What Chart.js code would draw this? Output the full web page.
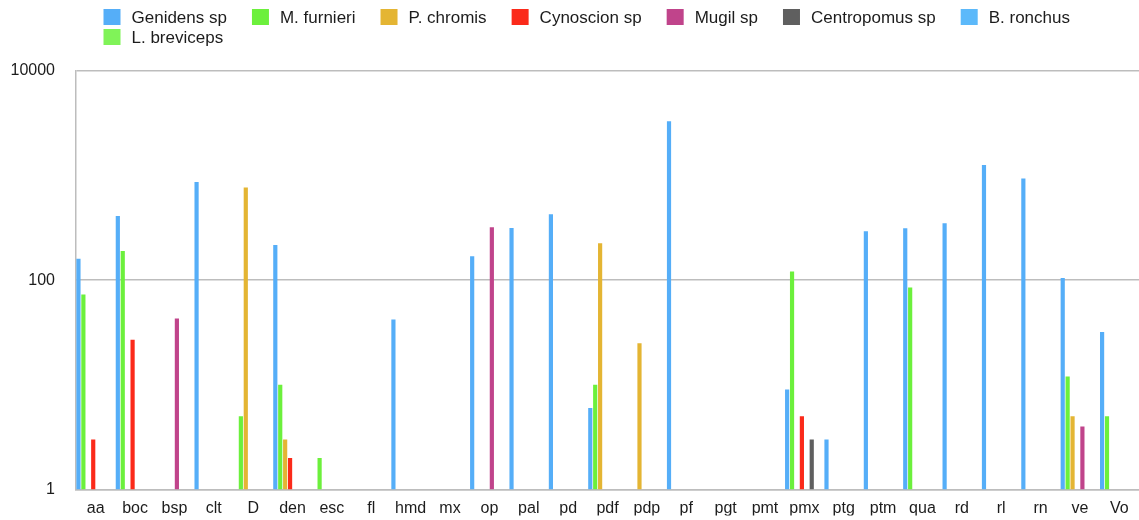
<!DOCTYPE html>
<html>
<head>
<meta charset="utf-8">
<script src="https://cdn.jsdelivr.net/npm/chart.js@4/dist/chart.umd.min.js"></script>
<style>
  html, body { margin: 0; padding: 0; background: #ffffff; }
  #wrap { width: 1139px; height: 520px; position: relative; }
</style>
</head>
<body>
<div id="wrap"><canvas id="chart"></canvas></div>
<script>
// Sampling sites along the x axis
const categories = ['aa', 'boc', 'bsp', 'clt', 'D', 'den', 'esc', 'fl', 'hmd', 'mx', 'op', 'pal', 'pd', 'pdf', 'pdp', 'pf', 'pgt', 'pmt', 'pmx', 'ptg', 'ptm', 'qua', 'rd', 'rl', 'rn', 've', 'Vo'];

// Counts per species (null = not recorded)
const genidens    = [160, 410, null, 870, null, 217, null, null, 42, null, 169, 315, 427, 6, null, 3300, null, null, 9, 3, 293, 313, 351, 1260, 940, 105, 32];
const mFurnieri   = [73, 190, null, null, 5, 10, 2, null, null, null, null, null, null, 10, null, null, null, null, 121, null, null, 85, null, null, null, 12, 5];
const pChromis    = [null, null, null, null, 770, 3, null, null, null, null, null, null, null, 226, 25, null, null, null, null, null, null, null, null, null, null, 5, null];
const cynoscion   = [3, 27, null, null, null, 2, null, null, null, null, null, null, null, null, null, null, null, null, 5, null, null, null, null, null, null, null, null];
const mugil       = [null, null, 43, null, null, null, null, null, null, null, 320, null, null, null, null, null, null, null, null, null, null, null, null, null, null, 4, null];
const centropomus = [null, null, null, null, null, null, null, null, null, null, null, null, null, null, null, null, null, null, 3, null, null, null, null, null, null, null, null];
const bRonchus    = [null, null, null, null, null, null, null, null, null, null, null, null, null, null, null, null, null, null, null, null, null, null, null, null, null, null, null];
const lBreviceps  = [null, null, null, null, null, null, null, null, null, null, null, null, null, null, null, null, null, null, null, null, null, null, null, null, null, null, null];

// Log axis ticks
const yTicks = [1, 100, 10000];

const FONT_FAMILY = "'Liberation Sans', Arial, Helvetica, sans-serif";
const GRID_COLOR = '#bdbdbd';
const TEXT_COLOR = '#1c1c1c';

const series = [
  { label: 'Genidens sp',    data: genidens,    color: '#55aef8' },
  { label: 'M. furnieri',    data: mFurnieri,   color: '#6cf03c' },
  { label: 'P. chromis',     data: pChromis,    color: '#e4b533' },
  { label: 'Cynoscion sp',   data: cynoscion,   color: '#fb2a1a' },
  { label: 'Mugil sp',       data: mugil,       color: '#c0448b' },
  { label: 'Centropomus sp', data: centropomus, color: '#5f5f5f' },
  { label: 'B. ronchus',     data: bRonchus,    color: '#5cb9fa' },
  { label: 'L. breviceps',   data: lBreviceps,  color: '#80f358' }
];

// Left-aligned, wrapping legend drawn above the plot
const rowLegend = {
  id: 'rowLegend',
  afterDraw(chart, args, opts) {
    const ctx = chart.ctx;
    ctx.save();
    ctx.font = opts.font;
    ctx.textBaseline = 'middle';
    ctx.textAlign = 'left';
    let x = opts.left;
    let y = opts.top;
    chart.data.datasets.forEach(ds => {
      const textW = ctx.measureText(ds.label).width;
      const w = opts.boxWidth + opts.textGap + textW;
      if (x > opts.left && x + w > chart.width - opts.rightLimit) {
        x = opts.left;
        y += opts.rowHeight;
      }
      ctx.fillStyle = ds.backgroundColor;
      ctx.fillRect(x, y, opts.boxWidth, opts.boxHeight);
      ctx.fillStyle = opts.color;
      ctx.fillText(ds.label, x + opts.boxWidth + opts.textGap, y + opts.boxHeight / 2 + 1);
      x += w + opts.itemGap;
    });
    ctx.restore();
  }
};

new Chart(document.getElementById('chart'), {
  type: 'bar',
  data: {
    labels: categories,
    datasets: series.map(s => ({
      label: s.label,
      data: s.data,
      backgroundColor: s.color,
      borderWidth: 0,
      categoryPercentage: 1.0,
      barPercentage: 0.85
    }))
  },
  options: {
    responsive: true,
    maintainAspectRatio: false,
    devicePixelRatio: 1,
    animation: false,
    layout: { padding: { top: 71, left: 10, right: -4, bottom: 0 } },
    plugins: {
      legend: { display: false },
      tooltip: { enabled: false },
      rowLegend: {
        left: 103.5,
        top: 9,
        boxWidth: 17,
        boxHeight: 16,
        textGap: 11,
        itemGap: 25,
        rowHeight: 20,
        rightLimit: 10,
        font: "17px " + FONT_FAMILY,
        color: TEXT_COLOR
      }
    },
    scales: {
      x: {
        offset: true,
        grid: { display: true, color: 'rgba(0,0,0,0)', drawTicks: false },
        border: { display: true, color: GRID_COLOR, width: 1.5 },
        ticks: {
          color: TEXT_COLOR,
          padding: 10,
          maxRotation: 0,
          autoSkip: false,
          font: { family: FONT_FAMILY, size: 16 }
        },
        afterFit: scale => { scale.height = 26; }
      },
      y: {
        type: 'logarithmic',
        min: 1,
        max: 10000,
        afterBuildTicks: scale => { scale.ticks = yTicks.map(v => ({ value: v })); },
        grid: { color: GRID_COLOR, lineWidth: 1.5, drawTicks: false },
        border: { display: true, color: GRID_COLOR, width: 1.5 },
        ticks: {
          color: TEXT_COLOR,
          padding: 21,
          font: { family: FONT_FAMILY, size: 16 },
          callback: v => String(v)
        },
        afterFit: scale => { scale.width = 66; }
      }
    }
  },
  plugins: [rowLegend]
});
</script>
</body>
</html>
